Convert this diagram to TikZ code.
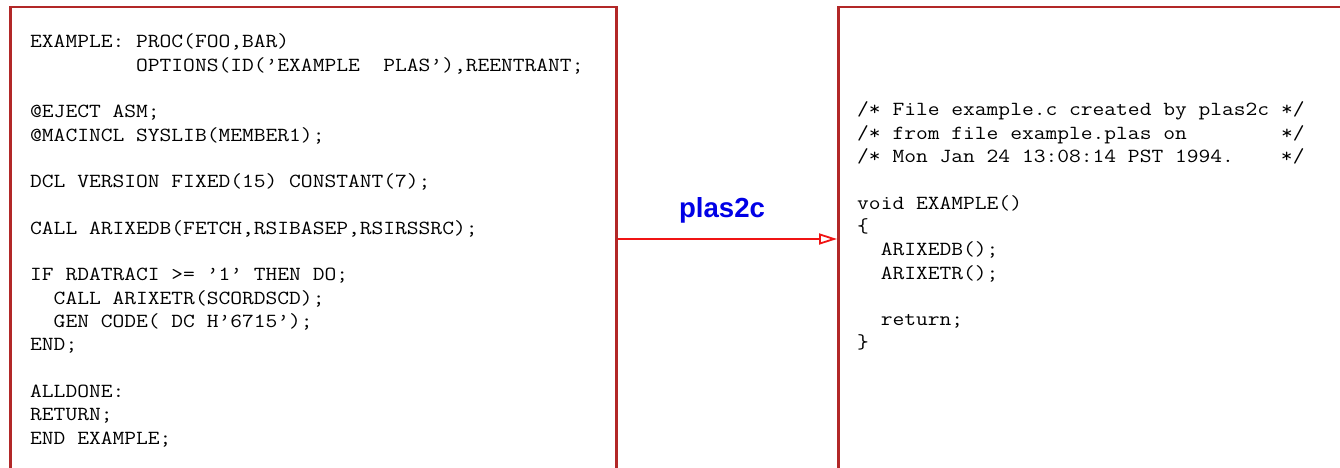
\documentclass[tikz,border=0pt]{standalone}
\usepackage{fontspec}
\usepackage{graphicx}
\usetikzlibrary{arrows.meta}
\newfontfamily\labelfont{Liberation Sans}

\definecolor{boxred}{RGB}{178,40,40}
\definecolor{arrowred}{RGB}{240,20,20}
\definecolor{labelblue}{RGB}{0,0,230}

% horizontal space of n monospaced characters
\newcommand\blank[1]{\hspace*{#1\fontcharwd\font`\X}}
% a block of code lines, widened to Courier-like proportions
\newcommand\codelines[1]{\scalebox{1.143}[1]{\begin{tabular}[t]{@{}l@{}}#1\end{tabular}}}

\tikzset{
  codebox/.style={draw=boxred, line width=2.5pt, rectangle, inner sep=0pt, anchor=north west},
  codetext/.style={anchor=base west, inner sep=0pt, font=\fontsize{20}{23.3}\selectfont\ttfamily},
  flow/.style={draw=arrowred, line width=1.9pt, -{Triangle[open, length=18pt, width=11pt, line width=1.8pt]}},
  tool/.style={anchor=base, inner sep=0pt, text=labelblue, font=\labelfont\bfseries\fontsize{27.6}{30}\selectfont}
}

\begin{document}
\begin{tikzpicture}[x=1pt, y=-1pt]
  \useasboundingbox (0,0) rectangle (1340,468);
  \clip (0,0) rectangle (1340,468);
  \fill[white] (0,0) rectangle (1340,468);

  % source and generated files
  \node[codebox, minimum width=606pt, minimum height=490pt] (src) at (9,6) {};
  \node[codebox, minimum width=503pt, minimum height=490pt] (dst) at (837,6) {};

  \coordinate (srctop) at (30,48);
  \coordinate (dsttop) at (857,116);

  \node[codetext] (srccode) at (srctop) {\codelines{%
EXAMPLE: PROC(FOO,BAR)\\
\blank{9}OPTIONS(ID(’EXAMPLE\blank{2}PLAS’),REENTRANT;\\
\\
@EJECT ASM;\\
@MACINCL SYSLIB(MEMBER1);\\
\\
DCL VERSION FIXED(15) CONSTANT(7);\\
\\
CALL ARIXEDB(FETCH,RSIBASEP,RSIRSSRC);\\
\\
IF RDATRACI >= ’1’ THEN DO;\\
\blank{2}CALL ARIXETR(SCORDSCD);\\
\blank{2}GEN CODE( DC H’6715’);\\
END;\\
\\
ALLDONE:\\
RETURN;\\
END EXAMPLE;}};

  \node[codetext] (dstcode) at (dsttop) {\codelines{%
/* File example.c created by plas2c */\\
/* from file example.plas on\blank{8}*/\\
/* Mon Jan 24 13:08:14 PST 1994.\blank{4}*/\\
\\
void EXAMPLE()\\
\{\\
\blank{2}ARIXEDB();\\
\blank{2}ARIXETR();\\
\\
\blank{2}return;\\
\}}};

  % translation step
  \coordinate (tap) at (700,239);
  \draw[flow] (src.east |- tap) -- (dst.west |- tap);
  \node[tool] (lbl) at (722,217) {plas2c};
\end{tikzpicture}
\end{document}
